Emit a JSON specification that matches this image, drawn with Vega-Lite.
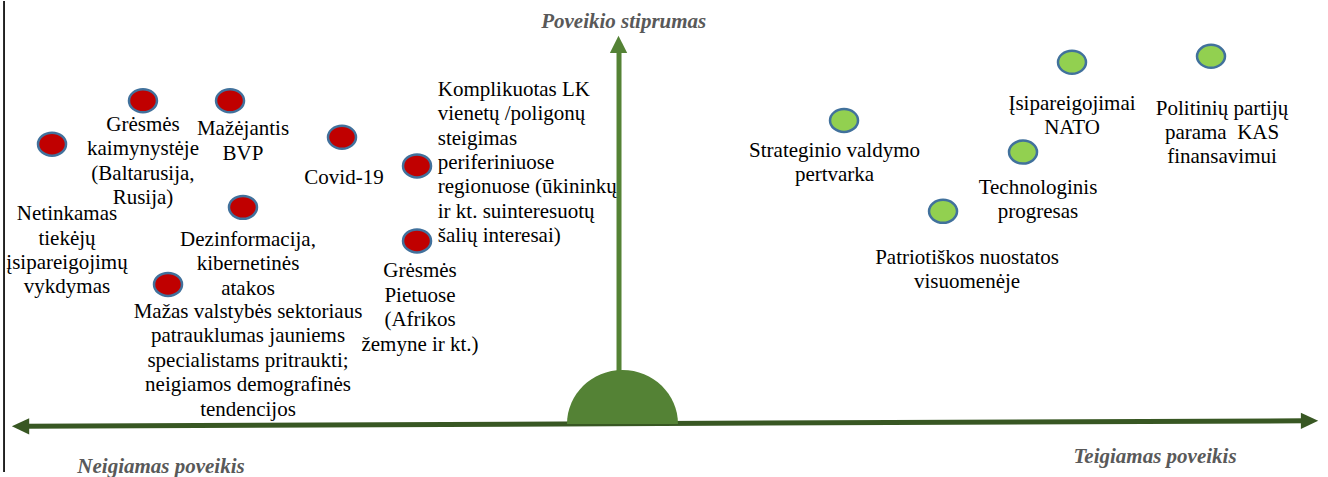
{
  "$schema": "https://vega.github.io/schema/vega-lite/v6.json",
  "width": 1328,
  "height": 477,
  "padding": 0,
  "autosize": {"type": "fit", "contains": "padding"},
  "background": "white",
  "config": {"view": {"stroke": null}},
  "datasets": {
    "guides": [
      {"part": "frame", "x": -99.35, "y": -11.45, "x2": -99.35, "y2": 100},
      {"part": "horizontal", "x": -95.97, "y": -0.63, "x2": 110.48, "y2": 0.68},
      {"part": "vertical", "x": -0.16, "y": 12.38, "x2": -0.16, "y2": 88.32}
    ],
    "heads": [
      {"dir": "left", "x": -96.69, "y": -0.65},
      {"dir": "right", "x": 111.21, "y": 0.65},
      {"dir": "up", "x": -0.24, "y": 89.72}
    ],
    "origin": [{"x": 0.40, "y": -0.12}],
    "factors": [
      {"name": "Grėsmės kaimynystėje", "effect": "neigiamas", "x": -76.94, "y": 76.40},
      {"name": "Mažėjantis BVP", "effect": "neigiamas", "x": -62.90, "y": 76.40},
      {"name": "Netinkamas tiekėjų įsipareigojimų vykdymas", "effect": "neigiamas", "x": -91.61, "y": 66.12},
      {"name": "Covid-19", "effect": "neigiamas", "x": -44.84, "y": 67.76},
      {"name": "Komplikuotas LK vienetų steigimas", "effect": "neigiamas", "x": -32.74, "y": 60.98},
      {"name": "Dezinformacija", "effect": "neigiamas", "x": -60.81, "y": 51.17},
      {"name": "Mažas valstybės sektoriaus patrauklumas", "effect": "neigiamas", "x": -72.90, "y": 32.94},
      {"name": "Grėsmės Pietuose", "effect": "neigiamas", "x": -32.74, "y": 43.22},
      {"name": "Strateginio valdymo pertvarka", "effect": "teigiamas", "x": 36.13, "y": 71.73},
      {"name": "Technologinis progresas", "effect": "teigiamas", "x": 65.00, "y": 64.25},
      {"name": "Patriotiškos nuostatos", "effect": "teigiamas", "x": 52.10, "y": 50.23},
      {"name": "Įsipareigojimai NATO", "effect": "teigiamas", "x": 72.90, "y": 85.51},
      {"name": "Politinių partijų parama", "effect": "teigiamas", "x": 95.32, "y": 86.92}
    ],
    "labels": [
      {"a": "center", "x": -76.94, "y": 69.28, "text": "Grėsmės\nkaimynystėje\n(Baltarusija,\nRusija)"},
      {"a": "center", "x": -60.81, "y": 68.22, "text": "Mažėjantis\nBVP"},
      {"a": "center", "x": -89.19, "y": 48.13, "text": "Netinkamas\ntiekėjų\nįsipareigojimų\nvykdymas"},
      {"a": "center", "x": -60.0, "y": 42.06, "text": "Dezinformacija,\nkibernetinės\natakos"},
      {"a": "center", "x": -60.0, "y": 25.0, "text": "Mažas valstybės sektoriaus\npatrauklumas jauniems\nspecialistams pritraukti;\nneigiamos demografinės\ntendencijos"},
      {"a": "center", "x": -44.52, "y": 56.78, "text": "Covid-19"},
      {"a": "left", "x": -29.40, "y": 77.57, "text": "Komplikuotas LK\nvienetų /poligonų\nsteigimas\nperiferiniuose\nregionuose (ūkininkų\nir kt. suinteresuotų\nšalių interesai)"},
      {"a": "center", "x": -32.26, "y": 34.58, "text": "Grėsmės\nPietuose\n(Afrikos\nžemyne ir kt.)"},
      {"a": "center", "x": 34.60, "y": 63.08, "text": "Strateginio valdymo\npertvarka"},
      {"a": "center", "x": 67.42, "y": 54.44, "text": "Technologinis\nprogresas"},
      {"a": "center", "x": 55.97, "y": 37.85, "text": "Patriotiškos nuostatos\nvisuomenėje"},
      {"a": "center", "x": 72.90, "y": 74.30, "text": "Įsipareigojimai\nNATO"},
      {"a": "center", "x": 97.10, "y": 73.13, "text": "Politinių partijų\nparama \u00a0KAS\nfinansavimui"}
    ],
    "titles": [
      {"x": 0.60, "y": 93.69, "text": "Poveikio stiprumas"},
      {"x": -74.03, "y": -11.68, "text": "Neigiamas poveikis"},
      {"x": 86.29, "y": -9.35, "text": "Teigiamas poveikis"}
    ]
  },
  "encoding": {
    "x": {"field": "x", "type": "quantitative", "scale": {"domain": [-100, 114.19], "nice": false, "zero": false}, "axis": null},
    "y": {"field": "y", "type": "quantitative", "scale": {"domain": [-11.45, 100], "nice": false, "zero": false}, "axis": null}
  },
  "layer": [
    {
      "data": {"name": "guides"},
      "transform": [{"filter": "datum.part == 'frame'"}],
      "mark": {"type": "rule", "color": "#000000", "strokeWidth": 1.7},
      "encoding": {"x2": {"field": "x2"}, "y2": {"field": "y2"}}
    },
    {
      "data": {"name": "guides"},
      "transform": [{"filter": "datum.part == 'horizontal'"}],
      "mark": {"type": "rule", "color": "#385723", "strokeWidth": 5},
      "encoding": {"x2": {"field": "x2"}, "y2": {"field": "y2"}}
    },
    {
      "data": {"name": "origin"},
      "mark": {"type": "point", "shape": "M-1,0A1,0.973,0,0,1,1,0Z", "size": 12321, "filled": true, "fill": "#548235", "opacity": 1, "strokeWidth": 0}
    },
    {
      "data": {"name": "guides"},
      "transform": [{"filter": "datum.part == 'vertical'"}],
      "mark": {"type": "rule", "color": "#548235", "strokeWidth": 5},
      "encoding": {"x2": {"field": "x2"}, "y2": {"field": "y2"}}
    },
    {
      "data": {"name": "heads"},
      "mark": {"type": "point", "filled": true, "opacity": 1, "size": 300, "strokeWidth": 0},
      "encoding": {
        "shape": {"field": "dir", "type": "nominal", "scale": {"domain": ["left", "right", "up"], "range": ["M-1,0L1,-0.94L1,0.94Z", "M1,0L-1,-0.94L-1,0.94Z", "M0,-1L1,1L-1,1Z"]}, "legend": null},
        "color": {"field": "dir", "type": "nominal", "scale": {"domain": ["left", "right", "up"], "range": ["#385723", "#385723", "#548235"]}, "legend": null}
      }
    },
    {
      "data": {"name": "factors"},
      "mark": {"type": "point", "shape": "M-1,0A1,0.82,0,1,1,1,0A1,0.82,0,1,1,-1,0Z", "size": 784, "filled": true, "opacity": 1, "stroke": "#41719C", "strokeWidth": 2.5},
      "encoding": {
        "fill": {"field": "effect", "type": "nominal", "scale": {"domain": ["neigiamas", "teigiamas"], "range": ["#C00000", "#92D050"]}, "legend": null}
      }
    },
    {
      "data": {"name": "labels"},
      "transform": [{"filter": "datum.a == 'center'"}],
      "mark": {"type": "text", "align": "center", "baseline": "alphabetic", "lineBreak": "\n", "font": "Liberation Serif", "fontSize": 21, "lineHeight": 24.4, "color": "#000000"},
      "encoding": {"text": {"field": "text"}}
    },
    {
      "data": {"name": "labels"},
      "transform": [{"filter": "datum.a == 'left'"}],
      "mark": {"type": "text", "align": "left", "baseline": "alphabetic", "lineBreak": "\n", "font": "Liberation Serif", "fontSize": 21, "lineHeight": 24.4, "color": "#000000"},
      "encoding": {"text": {"field": "text"}}
    },
    {
      "data": {"name": "titles"},
      "mark": {"type": "text", "align": "center", "baseline": "alphabetic", "font": "Liberation Serif", "fontSize": 21, "fontStyle": "italic", "fontWeight": "bold", "color": "#595959"},
      "encoding": {"text": {"field": "text"}}
    }
  ]
}
